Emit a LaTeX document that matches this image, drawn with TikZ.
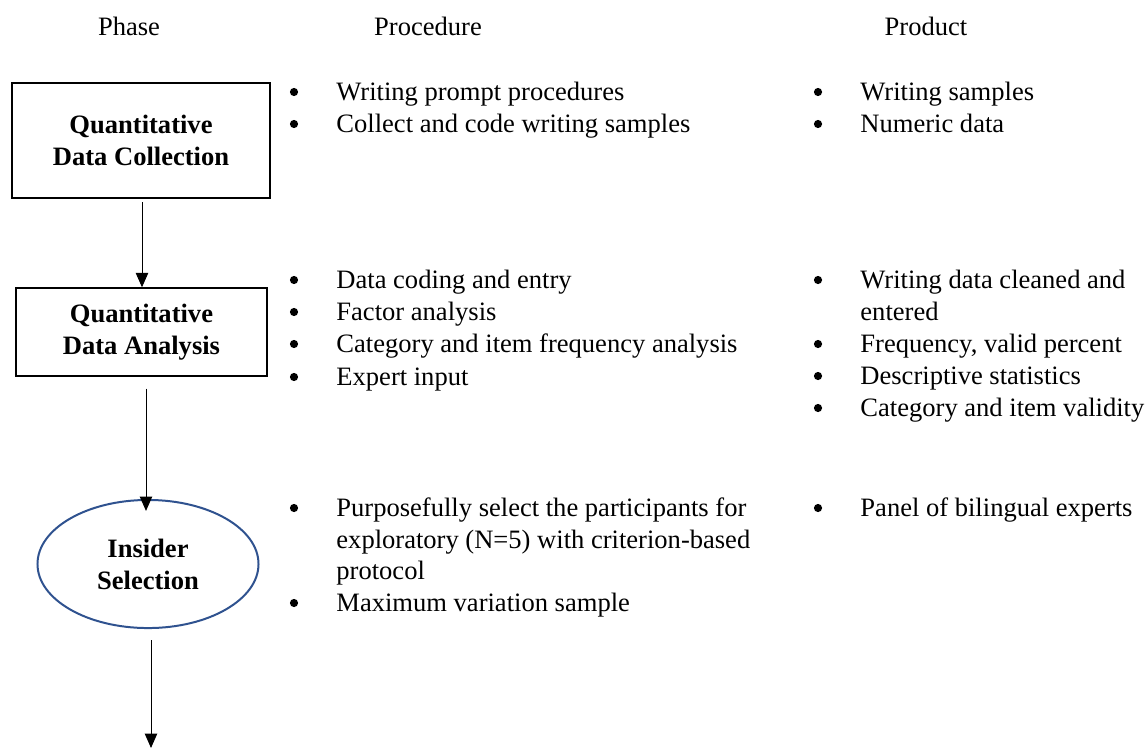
\documentclass[tikz,border=0pt]{standalone}
\usepackage{fontspec}
\setmainfont{Liberation Serif}
\usepackage{tikz}
\usetikzlibrary{shapes}
\usetikzlibrary{arrows.meta,calc}
\definecolor{ellblue}{HTML}{2F528F}

\begin{document}
\begin{tikzpicture}[x=0.452pt,y=-0.452pt,
  every node/.style={font=\fontsize{12}{14.5}\selectfont},
  phase/.style={font=\fontsize{12}{14.5}\selectfont\bfseries,align=center,inner sep=0pt},
  item/.style={anchor=base west,inner sep=0pt},
  dot/.style={circle,fill,inner sep=0pt,minimum size=3.7pt},
  arr/.style={-{Triangle[length=6.5pt,width=5.6pt]},line width=0.45pt}]
\useasboundingbox (0,0) rectangle (1148,749);
\node[anchor=base] (hphase) at (129,35) {Phase};
\node[anchor=base] (hproc) at (428,35) {Procedure};
\node[anchor=base] (hprod) at (926,35) {Product};
\node[phase,draw,line width=1pt,minimum width=116.6pt,minimum height=52pt] (qdc) at (141,140.5) {Quantitative\\Data Collection};
\node[phase,draw,line width=0.6pt,minimum width=113.5pt,minimum height=39.8pt] (qda) at (141.5,332) {Quantitative\\Data Analysis};
\node[phase,draw=ellblue,line width=0.9pt,ellipse,minimum width=99.9pt,minimum height=57.9pt] (ins) at (148,564) {Insider\\Selection};
\coordinate (end) at (151,748);
\draw[arr] ($(qdc.south)+(1,3)$) -- ($(qda.north)+(0.5,0)$);
\draw[arr] ($(qda.south)+(4.5,12)$) -- ($(ins.north)+(-2,12)$);
\draw[arr] ($(ins.south)+(3,11)$) -- (end);
\node[dot] (b1) at (294,92) {};
\node[item] (p1) at (336,100) {Writing prompt procedures};
\node[dot] (b2) at (294,124) {};
\node[item] (p2) at (336,132) {Collect and code writing samples};
\node[dot] (b3) at (294,280) {};
\node[item] (p3) at (336,288) {Data coding and entry};
\node[dot] (b4) at (294,312) {};
\node[item] (p4) at (336,320) {Factor analysis};
\node[dot] (b5) at (294,344) {};
\node[item] (p5) at (336,352) {Category and item frequency analysis};
\node[dot] (b6) at (294,377) {};
\node[item] (p6) at (336,385) {Expert input};
\node[dot] (b7) at (294,508) {};
\node[item] (p7) at (336,516) {Purposefully select the participants for};
\node[item] (p7b) at (336,548) {exploratory (N=5) with criterion-based};
\node[item] (p7c) at (336,579) {protocol};
\node[dot] (b8) at (294,603) {};
\node[item] (p8) at (336,611) {Maximum variation sample};
\node[dot] (c1) at (818,92) {};
\node[item] (r1) at (860,100) {Writing samples};
\node[dot] (c2) at (818,124) {};
\node[item] (r2) at (860,132) {Numeric data};
\node[dot] (c3) at (818,280) {};
\node[item] (r3) at (860,288) {Writing data cleaned and};
\node[item] (r3b) at (860,320) {entered};
\node[dot] (c4) at (818,344) {};
\node[item] (r4) at (860,352) {Frequency, valid percent};
\node[dot] (c5) at (818,376) {};
\node[item] (r5) at (860,384) {Descriptive statistics};
\node[dot] (c6) at (818,408) {};
\node[item] (r6) at (860,416) {Category and item validity};
\node[dot] (c7) at (818,508) {};
\node[item] (r7) at (860,516) {Panel of bilingual experts};
\end{tikzpicture}
\end{document}
